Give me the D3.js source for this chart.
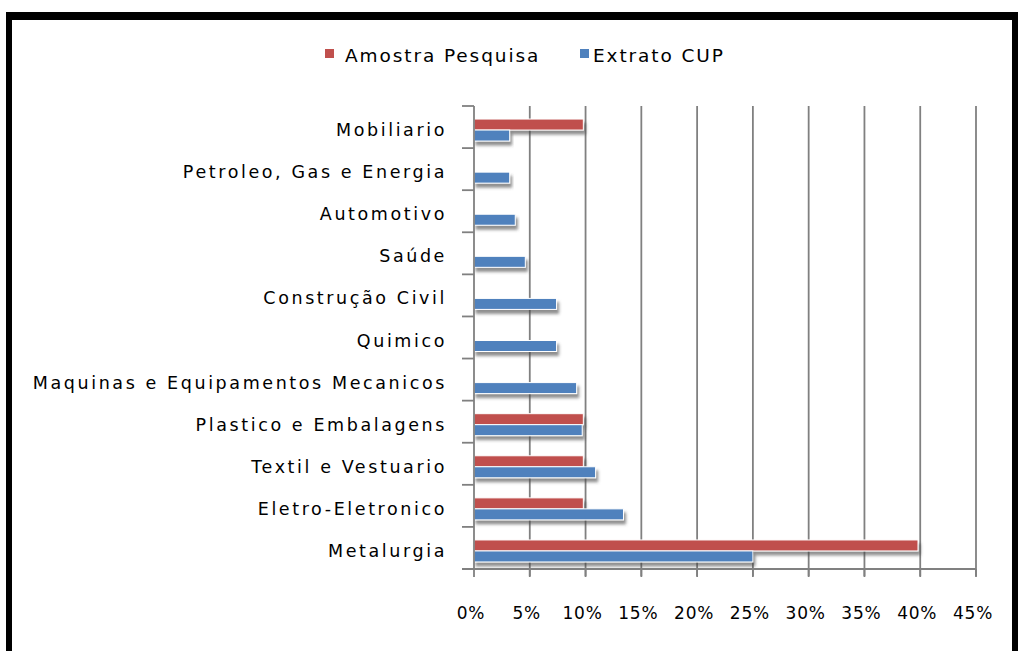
<!DOCTYPE html>
<html><head><meta charset="utf-8">
<script src="https://cdn.jsdelivr.net/npm/d3@7"></script>
<style>
html,body{margin:0;padding:0;background:#fff;}
svg{display:block;}
</style></head>
<body>
<svg id="chart" width="1018" height="651"></svg>
<script>
const categories = ["Mobiliario","Petroleo, Gas e Energia","Automotivo","Saúde","Construção Civil","Quimico","Maquinas e Equipamentos  Mecanicos","Plastico e Embalagens","Textil e Vestuario","Eletro-Eletronico","Metalurgia"];
const seriesNames = ["Amostra Pesquisa","Extrato CUP"];
const amostra = [9.8, 0, 0, 0, 0, 0, 0, 9.8, 9.8, 9.8, 39.8];
const extrato = [3.2, 3.2, 3.7, 4.6, 7.4, 7.4, 9.2, 9.7, 10.9, 13.4, 25];
const ticks = [0,5,10,15,20,25,30,35,40,45];
const colors = ["#C0504D","#4F81BD"];

const svg = d3.select("#chart");
const defs = svg.append("defs");
const f = defs.append("filter").attr("id","sh").attr("x","-5%").attr("y","-50%").attr("width","115%").attr("height","250%");
f.append("feDropShadow").attr("dx",2).attr("dy",4).attr("stdDeviation",1.5).attr("flood-color","#444").attr("flood-opacity",0.6);

// border
svg.append("rect").attr("x",6).attr("y",12).attr("width",1012).attr("height",8).attr("fill","#000");
svg.append("rect").attr("x",6).attr("y",12).attr("width",6).attr("height",639).attr("fill","#000");
svg.append("rect").attr("x",1012).attr("y",12).attr("width",6).attr("height",639).attr("fill","#000");

const x = d3.scaleLinear().domain([0,45]).range([474,976]);
const y = d3.scaleBand().domain(categories).range([106,569]).padding(0);
const inner = d3.scaleBand().domain(seriesNames).range([0,22]);

// gridlines
svg.append("g").selectAll("line").data(ticks.slice(1)).join("line")
  .attr("x1",d=>x(d)).attr("x2",d=>x(d)).attr("y1",106).attr("y2",576)
  .attr("stroke","#808080").attr("stroke-width",1.8);

// bars
const groups = svg.append("g").selectAll("g").data(categories).join("g")
  .attr("transform",d=>`translate(0,${y(d)+y.bandwidth()/2-8})`);
const data = categories.map((c,i)=>[amostra[i],extrato[i]]);
groups.selectAll("rect").data((d,i)=>data[i].map((v,j)=>({v,j}))).join("rect")
  .filter(d=>d.v>0)
  .attr("x",x(0)).attr("y",d=>inner(seriesNames[d.j]))
  .attr("width",d=>x(d.v)-x(0)).attr("height",inner.bandwidth())
  .attr("fill",d=>colors[d.j]).attr("stroke","#fff").attr("stroke-width",1)
  .attr("filter","url(#sh)");

// y axis
const yAxis = svg.append("g");
yAxis.append("line").attr("x1",474).attr("x2",474).attr("y1",106).attr("y2",569).attr("stroke","#808080").attr("stroke-width",1.8);
const bounds = categories.map(c=>y(c)).concat([569]);
yAxis.selectAll("line.t").data(bounds).join("line").attr("class","t")
  .attr("x1",462).attr("x2",474).attr("y1",d=>d).attr("y2",d=>d).attr("stroke","#808080").attr("stroke-width",1.8);
yAxis.selectAll("text").data(categories).join("text")
  .attr("x",447).attr("y",d=>y(d)+y.bandwidth()/2+4)
  .attr("text-anchor","end").attr("dominant-baseline","middle")
  .attr("font-family","DejaVu Sans").attr("font-size",17.5).attr("letter-spacing",2.6).attr("fill","#000")
  .text(d=>d);

// x axis
const xAxis = svg.append("g");
xAxis.append("line").attr("x1",462).attr("x2",976).attr("y1",569).attr("y2",569).attr("stroke","#808080").attr("stroke-width",1.8);
xAxis.selectAll("line.t").data(ticks).join("line").attr("class","t")
  .attr("x1",d=>x(d)).attr("x2",d=>x(d)).attr("y1",569).attr("y2",577).attr("stroke","#808080").attr("stroke-width",1.8);
xAxis.selectAll("text").data(ticks).join("text")
  .attr("x",d=>x(d)-3).attr("y",619).attr("text-anchor","middle")
  .attr("font-family","DejaVu Sans").attr("font-size",17).attr("letter-spacing",0.8).attr("fill","#000")
  .text(d=>d+"%");

// legend
const legendX = [325,580];
const lg = svg.append("g").selectAll("g").data(seriesNames).join("g")
  .attr("transform",(d,i)=>`translate(${legendX[i]},0)`);
lg.append("rect").attr("x",0).attr("y",49).attr("width",9).attr("height",9).attr("fill",(d,i)=>colors[i]);
lg.append("text").attr("x",d=>d===seriesNames[0]?20:13).attr("y",62)
  .attr("font-family","DejaVu Sans").attr("font-size",18.5).attr("letter-spacing",1.9).attr("fill","#000")
  .text(d=>d);
</script>
</body></html>
